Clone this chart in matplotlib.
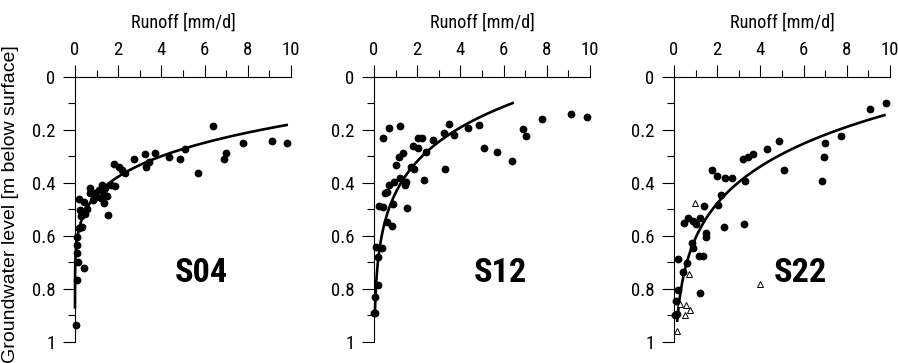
import numpy as np
import matplotlib
matplotlib.use("Agg")
import matplotlib.pyplot as plt
from matplotlib.ticker import MultipleLocator
from matplotlib.font_manager import FontProperties
from matplotlib.textpath import TextPath
import logging

logging.getLogger('matplotlib.font_manager').setLevel(logging.ERROR)

# narrow sans for the horizontal texts (the reference looks like Arial Narrow)
NARROW = ['Roboto Condensed', 'Archivo Narrow', 'PT Sans Narrow', 'Pragati Narrow', 'Liberation Sans']
plt.rcParams['font.family'] = NARROW + ['DejaVu Sans']

DPI = 100

# Station S04 (runoff mm/d, groundwater level m below surface)
s04_runoff = [6.37, 9.81, 9.12, 7.76, 6.99, 6.88, 5.68, 5.11, 4.88, 4.34, 3.69, 3.23,
              3.44, 3.29, 2.72, 2.33, 2.18, 2.02, 1.79, 1.84, 1.68, 1.48, 1.51, 1.40,
              1.25, 1.28, 1.10, 1.22, 1.34, 0.97, 0.94, 0.71, 0.71, 0.82, 0.56, 0.48,
              0.40, 0.20, 0.25, 0.29, 0.32, 0.17, 0.09, 0.09, 0.08, 0.14, 0.40, 0.08, 0.05]
s04_gwl = [0.184, 0.250, 0.242, 0.250, 0.288, 0.311, 0.361, 0.272, 0.311, 0.301, 0.288, 0.291,
           0.322, 0.341, 0.311, 0.364, 0.351, 0.341, 0.328, 0.411, 0.409, 0.449, 0.522, 0.420,
           0.408, 0.433, 0.426, 0.458, 0.477, 0.452, 0.439, 0.420, 0.437, 0.464, 0.499, 0.517,
           0.470, 0.462, 0.502, 0.525, 0.565, 0.571, 0.603, 0.634, 0.665, 0.697, 0.722, 0.766, 0.936]

# Station S12
s12_runoff = [9.12, 9.85, 7.76, 6.91, 7.04, 6.37, 5.68, 5.11, 4.88, 4.34, 3.46, 3.69,
              3.26, 3.29, 2.72, 2.41, 2.33, 2.21, 2.02, 2.05, 1.79, 1.87, 1.71, 1.48,
              1.45, 1.51, 1.33, 1.14, 1.02, 1.22, 0.71, 0.43, 1.22, 0.94, 0.71, 0.60,
              0.51, 0.90, 0.25, 0.40, 0.59, 0.85, 0.09, 0.37, 0.20, 0.20, 0.06, 0.06, 0.02]
s12_gwl = [0.140, 0.150, 0.160, 0.197, 0.221, 0.316, 0.282, 0.269, 0.181, 0.191, 0.179, 0.220,
           0.213, 0.348, 0.238, 0.282, 0.389, 0.231, 0.231, 0.269, 0.260, 0.348, 0.338, 0.395,
           0.408, 0.496, 0.286, 0.301, 0.332, 0.185, 0.194, 0.229, 0.382, 0.397, 0.408, 0.433,
           0.439, 0.481, 0.487, 0.492, 0.546, 0.562, 0.643, 0.647, 0.681, 0.785, 0.831, 0.892, 0.890]

# Station S22 (filled circles)
s22_runoff = [0.04, 0.14, 0.09, 0.17, 0.20, 0.40, 0.59, 0.82, 0.86, 0.48, 0.66, 0.86,
              1.02, 1.20, 1.37, 1.48, 1.48, 1.14, 1.33, 1.20, 2.02, 2.18, 2.30, 1.74,
              1.99, 2.36, 2.69, 3.18, 3.44, 3.67, 3.29, 3.26, 4.29, 4.85, 5.08, 6.99,
              6.93, 6.85, 7.73, 9.09, 9.81]
s22_gwl = [0.898, 0.894, 0.844, 0.804, 0.688, 0.735, 0.701, 0.628, 0.647, 0.552, 0.531, 0.542,
           0.555, 0.533, 0.487, 0.590, 0.605, 0.675, 0.675, 0.816, 0.483, 0.445, 0.565, 0.351,
           0.372, 0.382, 0.380, 0.309, 0.301, 0.291, 0.391, 0.555, 0.270, 0.240, 0.351, 0.250,
           0.301, 0.391, 0.221, 0.121, 0.099]
# Station S22 (open triangles)
s22_tri_runoff = [0.99, 0.68, 3.98, 0.26, 0.57, 0.73, 0.52, 0.14]
s22_tri_gwl = [0.476, 0.743, 0.782, 0.857, 0.862, 0.879, 0.898, 0.958]

# fitted curves: gwl = a - b * runoff**c, drawn between x_start and x_end
fit_a = [0.898, 2.093, 2.418]
fit_b = [0.454, 1.656, 1.811]
fit_c = [0.2, 0.1, 0.1]
fit_x_start = [1e-6, 0.04, 0.15]
fit_x_end = [9.8, 6.42, 9.74]

stations = ["S04", "S12", "S22"]
x_ticks = [0, 2, 4, 6, 8, 10]
x_tick_labels = ["0", "2", "4", "6", "8", "10"]
y_ticks = [0, 0.2, 0.4, 0.6, 0.8, 1]
y_tick_labels = ["0", "0.2", "0.4", "0.6", "0.8", "1"]

panel_left = [0.0835, 0.4165, 0.7506]


def size_for_width(text, target_px, weight='normal'):
    # font size (pt) that gives the text an ink width of target_px pixels
    prop = FontProperties(family=NARROW, weight=weight)
    w = TextPath((0, 0), text, size=1, prop=prop).get_extents().width
    return target_px * 72.0 / (DPI * w)


label_size = size_for_width("Runoff [mm/d]", 102)
tick_size = size_for_width("10", 16)
name_size = size_for_width("S04", 51, weight='bold')

fig = plt.figure(figsize=(8.98, 3.63), dpi=DPI)

series = [(s04_runoff, s04_gwl), (s12_runoff, s12_gwl), (s22_runoff, s22_gwl)]

for i, name in enumerate(stations):
    ax = fig.add_axes([panel_left[i], 0.058, 0.2405, 0.730])
    x, y = series[i]
    ax.plot(x, y, 'o', color='black', markersize=4.6, clip_on=False, zorder=3)
    if name == "S22":
        ax.plot(s22_tri_runoff, s22_tri_gwl, '^', markerfacecolor='white',
                markeredgecolor='black', markersize=4, markeredgewidth=0.7,
                clip_on=False, zorder=4)

    xc = np.geomspace(fit_x_start[i], fit_x_end[i], 400)
    yc = fit_a[i] - fit_b[i] * xc ** fit_c[i]
    ax.plot(xc, yc, '-', color='black', linewidth=1.9, clip_on=False, zorder=2)

    ax.text(5.85, 0.738, name, fontsize=name_size, fontweight='bold',
            ha='center', va='center')

    ax.set_xlim(0, 10)
    ax.set_ylim(1, 0)
    ax.xaxis.tick_top()
    ax.xaxis.set_label_position('top')
    ax.set_xlabel("Runoff [mm/d]", fontsize=label_size)
    ax.xaxis.set_label_coords(0.5, 1.205)
    ax.xaxis.label.set_verticalalignment('center')

    ax.xaxis.set_minor_locator(MultipleLocator(1))
    ax.yaxis.set_minor_locator(MultipleLocator(0.1))
    ax.set_xticks(x_ticks)
    ax.set_xticklabels(x_tick_labels)
    ax.set_yticks(y_ticks)
    ax.set_yticklabels(y_tick_labels)

    ax.tick_params(axis='both', which='major', direction='out', length=9, width=0.8,
                   labelsize=tick_size, pad=4)
    ax.tick_params(axis='both', which='minor', direction='out', length=5, width=0.8)
    ax.tick_params(axis='y', which='major', pad=5)

    ax.spines['right'].set_visible(False)
    ax.spines['bottom'].set_visible(False)
    ax.spines['left'].set_linewidth(0.8)
    ax.spines['top'].set_linewidth(0.8)

    if i == 0:
        ax.set_ylabel("Groundwater level [m below surface]", fontsize=14,
                      family=['Liberation Sans', 'DejaVu Sans'])
        ax.yaxis.set_label_coords(-0.259, 0.52)

fig.savefig("out.png", dpi=DPI)
